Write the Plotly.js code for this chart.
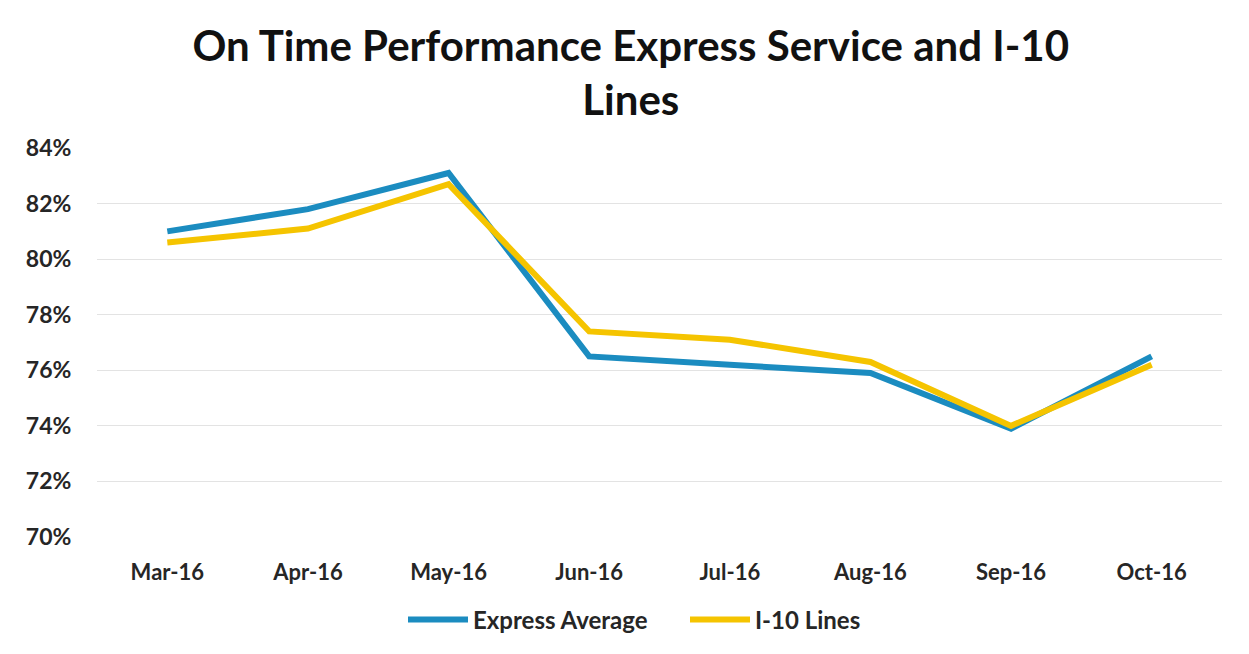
<!DOCTYPE html>
<html>
<head>
<meta charset="utf-8">
<script src="https://cdn.plot.ly/plotly-3.0.1.min.js"></script>
<style>html,body{margin:0;padding:0;background:#fff;}#chart{width:1249px;height:654px;}</style>
</head>
<body>
<div id="chart"></div>
<script>
const months = ["Mar-16","Apr-16","May-16","Jun-16","Jul-16","Aug-16","Sep-16","Oct-16"];
const expressAverage = [0.810, 0.818, 0.831, 0.765, 0.762, 0.759, 0.739, 0.765];
const i10Lines = [0.806, 0.811, 0.827, 0.774, 0.771, 0.763, 0.740, 0.762];
const yTicks = [0.70, 0.72, 0.74, 0.76, 0.78, 0.80, 0.82, 0.84];

const font = "Lato, 'Open Sans', 'DejaVu Sans', sans-serif";
const traces = [
  {x: months, y: expressAverage, name: "Express Average", type: "scatter", mode: "lines",
   line: {color: "#1b8cc0", width: 6}},
  {x: months, y: i10Lines, name: "I-10 Lines", type: "scatter", mode: "lines",
   line: {color: "#f5c400", width: 6}}
];
const layout = {
  width: 1249, height: 654,
  paper_bgcolor: "#ffffff", plot_bgcolor: "#ffffff",
  margin: {l: 97, r: 27, t: 148, b: 115},
  font: {family: font, color: "#262626"},
  title: {text: "On Time Performance Express Service and I-10<br>Lines",
          x: 0.505, xanchor: "center", y: 0.907, yanchor: "middle",
          font: {family: font, size: 42, color: "#111", weight: "bold"}},
  xaxis: {type: "category", range: [-0.5, 7.5], showgrid: false, zeroline: false,
          showline: false, ticks: "outside", ticklen: 16, tickcolor: "rgba(0,0,0,0)",
          tickfont: {family: font, size: 22, color: "#262626", weight: "bold"}},
  yaxis: {range: [0.70, 0.84], tickvals: yTicks, tickformat: ".0%",
          showgrid: true, gridcolor: "#e3e3e3", gridwidth: 1, zeroline: false,
          showline: false, ticks: "outside", ticklen: 20, tickcolor: "rgba(0,0,0,0)",
          tickfont: {family: font, size: 23, color: "#262626", weight: "bold"}},
  showlegend: true,
  legend: {orientation: "h", x: 0.272, xanchor: "left", y: -0.155, yanchor: "top",
           font: {family: font, size: 24, color: "#262626", weight: "bold"},
           itemwidth: 60, entrywidth: 207, entrywidthmode: "pixels"}
};
Plotly.newPlot("chart", traces, layout, {displayModeBar: false, staticPlot: true});
</script>
</body>
</html>
